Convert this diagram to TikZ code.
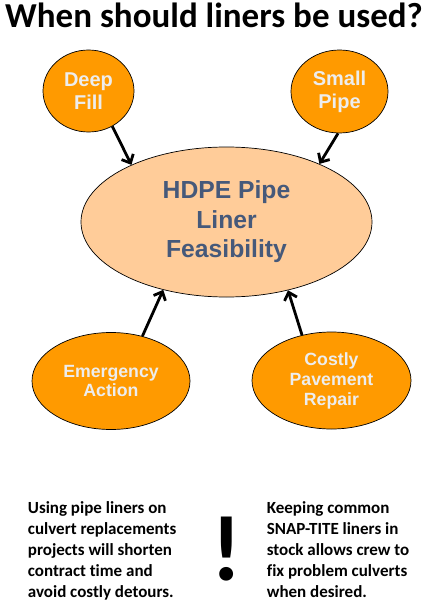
\documentclass[tikz,border=0pt]{standalone}
\usepackage{fontspec}
\setmainfont{Carlito}[Ligatures=NoCommon]
\newfontfamily\arialfont{Liberation Sans}
\usepackage{xcolor}
\usetikzlibrary{arrows.meta,shapes.geometric}
\definecolor{cause}{HTML}{FF9A00}
\definecolor{peach}{HTML}{FFCC99}
\definecolor{causetxt}{HTML}{EDEDED}
\definecolor{slate}{HTML}{46597A}

\begin{document}
\begin{tikzpicture}[x=1pt,y=-1pt,
    oval/.style={ellipse,draw=black,line width=0.7pt,inner sep=0pt,align=center,font=\arialfont\bfseries},
    sm/.style={oval,fill=cause,text=causetxt},
    note/.style={anchor=north west,inner sep=0pt,align=left,font=\fontsize{17}{21.2}\selectfont\bfseries},
    ar/.style={-{Straight Barb[length=7pt,width=13pt]},line width=2.8pt}
]
\useasboundingbox (0,0) rectangle (428,610);
\node[anchor=base,font=\fontsize{35}{38}\selectfont\bfseries] (title) at (214,28) {When should liners be used?};
% hub and the four reasons
\node[oval,fill=peach,text=slate,minimum width=291pt,minimum height=150pt,font=\arialfont\bfseries\fontsize{24.7}{29.5}\selectfont] (hub) at (226.5,222) {HDPE Pipe\\Liner\\Feasibility};
\node[sm,minimum width=91pt,minimum height=82pt,font=\arialfont\bfseries\fontsize{20}{23.3}\selectfont] (deep) at (88.5,91) {Deep\\Fill};
\node[sm,minimum width=97pt,minimum height=83pt,font=\arialfont\bfseries\fontsize{20}{23.3}\selectfont] (small) at (339.5,91.5) {Small\\Pipe};
\node[sm,minimum width=158pt,minimum height=97pt,font=\arialfont\bfseries\fontsize{17.7}{19.5}\selectfont] (emerg) at (111,381) {Emergency\\Action};
\node[sm,minimum width=159pt,minimum height=97pt,font=\arialfont\bfseries\fontsize{17.7}{20}\selectfont] (costly) at (331.5,380.5) {Costly\\Pavement\\Repair};
\draw[ar] (deep.-56) -- (hub.149);
\draw[ar] (small.-92) -- (hub.32);
\draw[ar] (emerg.55) -- (hub.-133);
\draw[ar] (costly.123) -- (hub.-48);
% notes
\node[note] (noteL) at (27.7,501) {Using pipe liners on\\culvert replacements\\projects will shorten\\contract time and\\avoid costly detours.};
\node[note] (noteR) at (266.7,501) {Keeping common\\SNAP-TITE liners in\\stock allows crew to\\fix problem culverts\\when desired.};
\node[anchor=base,inner sep=0pt,font=\fontsize{93}{93}\selectfont\bfseries] (bang) at (226.5,580) {!};
\end{tikzpicture}
\end{document}
